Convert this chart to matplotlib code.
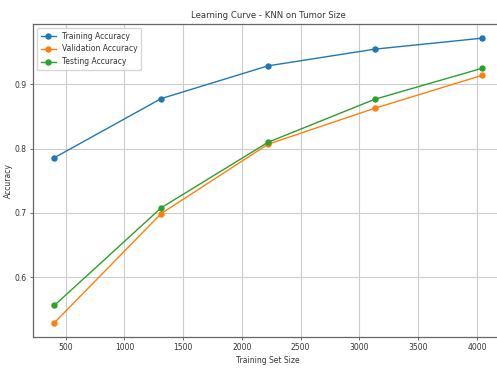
import matplotlib
matplotlib.use("Agg")
import matplotlib.pyplot as plt

train_sizes = [404, 1313, 2222, 3131, 4040]
train_acc = [0.786, 0.878, 0.929, 0.955, 0.972]
val_acc = [0.529, 0.699, 0.807, 0.863, 0.914]
test_acc = [0.556, 0.708, 0.810, 0.877, 0.925]

fig = plt.figure(figsize=(4.97, 3.68), dpi=100)
L, R, T, B = 33, 503, 24, 337
W, H = 497, 368
ax = fig.add_axes([L / W, 1 - B / H, (R - L) / W, (B - T) / H])

lw = 1.0
ms = 3.6
ax.plot(train_sizes, train_acc, 'o-', color='#1f77b4', lw=lw, ms=ms, label='Training Accuracy')
ax.plot(train_sizes, val_acc, 'o-', color='#ff7f0e', lw=lw, ms=ms, label='Validation Accuracy')
ax.plot(train_sizes, test_acc, 'o-', color='#2ca02c', lw=lw, ms=ms, label='Testing Accuracy')

fs = 5.5
tc = '#333333'
ax.set_title('Learning Curve - KNN on Tumor Size', fontsize=6.1, pad=4, color=tc)
ax.set_xlabel('Training Set Size', fontsize=fs, labelpad=3, color=tc)
ax.set_ylabel('Accuracy', fontsize=fs, labelpad=1, color=tc)
ax.tick_params(labelsize=fs, length=2.5, width=0.6, pad=2, labelcolor=tc, color='#555555')
ax.set_xticks([500, 1000, 1500, 2000, 2500, 3000, 3500, 4000])
ax.set_yticks([0.6, 0.7, 0.8, 0.9])
ax.grid(True, color='#cccccc', lw=0.8)
for s in ax.spines.values():
    s.set_linewidth(0.9)
    s.set_color('#666666')
leg = ax.legend(loc='upper left', fontsize=fs, handlelength=2, borderpad=0.5, labelspacing=0.5)
for t in leg.get_texts():
    t.set_color(tc)

fig.savefig('out.png', dpi=100)
